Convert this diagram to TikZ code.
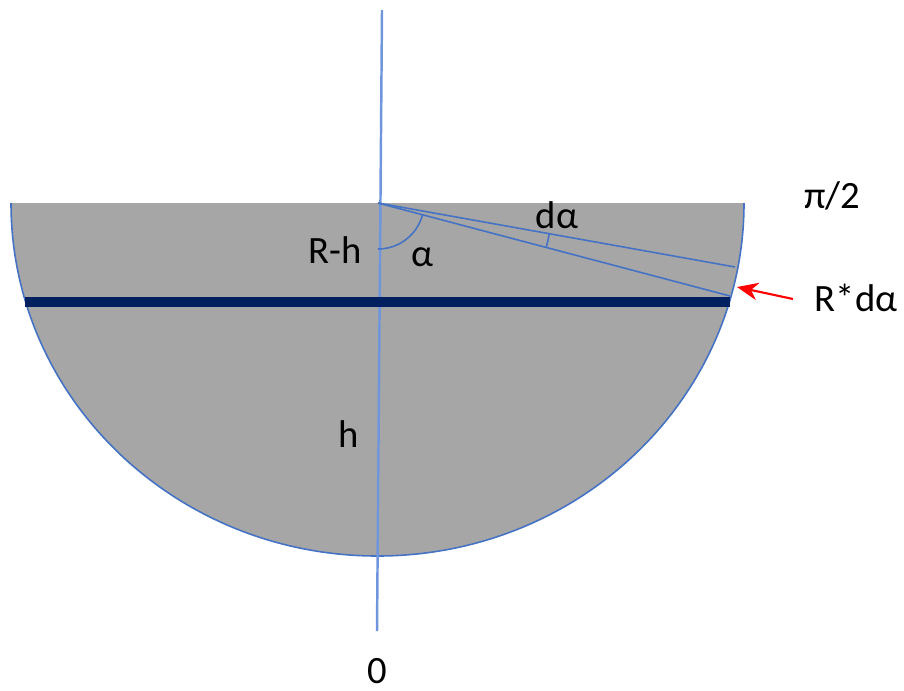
\documentclass[tikz,border=0pt]{standalone}
\usepackage{fontspec}
\setmainfont{Carlito}
\usetikzlibrary{arrows.meta}
\definecolor{fillgray}{HTML}{A6A6A6}
\definecolor{lineblue}{HTML}{4472C4}
\definecolor{axisblue}{HTML}{6F96DC}
\definecolor{navy}{HTML}{002060}
\tikzset{
  thinblue/.style={draw=lineblue, line width=0.45pt},
  lbl/.style={inner sep=0pt, font=\fontsize{11}{13}\selectfont, text=black},
}
\begin{document}
\begin{tikzpicture}[x=0.01cm,y=0.01cm]
\useasboundingbox (0,0) rectangle (904,690);
% shape
\fill[fillgray] (11,487) arc[start angle=180,end angle=360,x radius=366.5,y radius=353] -- cycle;
\draw[thinblue] (11,487) arc[start angle=180,end angle=360,x radius=366.5,y radius=353];
% coordinates
\coordinate (O) at (378,487);
\coordinate (vtop) at (382,680);
\coordinate (vbot) at (377,59);
\coordinate (p1) at (735,423);
\coordinate (p2) at (730,394);
\coordinate (nl) at (25,388);
\coordinate (nr) at (730,388);
\coordinate (atail) at (793,391);
\coordinate (ahead) at (737,403);
% vertical axis
\draw[axisblue, line width=0.7pt] (vtop) -- (vbot);
% thick navy line
\draw[navy, line width=0.1cm] (nl) -- (nr);
% radial lines
\draw[thinblue] (O) -- (p1);
\draw[thinblue] (O) -- (p2);
% angle arcs
\draw[thinblue] ([shift={(270:46)}]O) arc[start angle=270,end angle=345.2,radius=46];
\draw[thinblue] ([shift={(345.2:174)}]O) arc[start angle=345.2,end angle=349.8,radius=174];
% red arrow
\draw[red, line width=0.6pt, -{Stealth[length=6pt,width=5pt]}] (atail) -- (ahead);
% labels
\node[lbl] (pi2) at (832,494) {π/2};
\node[lbl] (rda) at (856,392) {R*dα};
\node[lbl] (rh) at (335,440) {R-h};
\node[lbl] (al) at (422,433) {α};
\node[lbl] (da) at (557,475) {dα};
\node[lbl] (hh) at (349,256) {h};
\node[lbl] (zero) at (377,19) {0};
\end{tikzpicture}
\end{document}
